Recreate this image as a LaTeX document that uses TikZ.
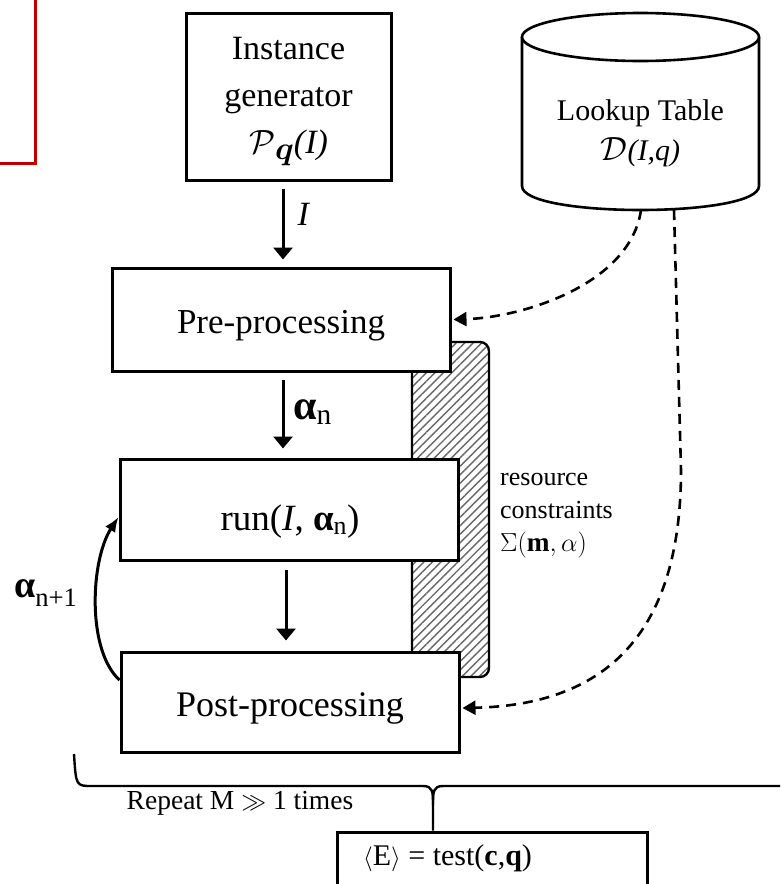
\documentclass[tikz,border=0pt]{standalone}
\usepackage{amsmath}
\usepackage{fontspec}
\setmainfont{Liberation Serif}
\usetikzlibrary{arrows.meta,patterns.meta}
\definecolor{frame}{RGB}{192,0,0}
\newcommand{\alf}{\textbf{α}}
\newcommand{\bigcal}[1]{\scalebox{1.35}{$\mathcal{#1}$}}
\begin{document}
\begin{tikzpicture}[x=1pt,y=-1pt,
  box/.style={draw,line width=3pt,fill=white,rectangle,inner sep=0pt},
  arr/.style={line width=3pt,-{Triangle[length=12pt,width=19pt]}},
  carr/.style={line width=3pt,-{Latex[length=15pt,width=12pt]}},
  darr/.style={line width=2.6pt,dash pattern=on 10pt off 7pt,-{Triangle[length=13pt,width=14pt]}},
  lbl/.style={inner sep=0pt}]
\useasboundingbox (0,0) rectangle (780,884);
\clip (0,0) rectangle (780,884);
% partial red frame
\draw[line width=3pt, draw=frame] (-20,-20) rectangle (35,163);
% hatched resource band
\draw[line width=2.4pt, pattern={Lines[angle=45,distance=6pt,line width=1.4pt]}, pattern color=black!60, rounded corners=9pt]
  (412,342) -| (489,677) -| (412,342) -- cycle;
% boxes
\node[box, minimum width=205pt, minimum height=167pt] (gen) at (288.5,96.5) {};
\node[lbl, align=center, font=\fontsize{34}{47}\selectfont] (genlbl) at (288.5,102)
  {Instance\\generator\\\bigcal{P}\raisebox{-6pt}{\scalebox{1.3}{$\boldsymbol{q}$}}\textit{(I)}};
\node[box, minimum width=338pt, minimum height=103pt] (pre) at (281,319.5) {};
\node[lbl, font=\fontsize{35}{40}\selectfont] (prelbl) at (281,326) {Pre-processing};
\node[box, minimum width=338pt, minimum height=101pt] (run) at (289,509.5) {};
\node[lbl, font=\fontsize{37}{40}\selectfont] (runlbl) at (290,522) {run(\textit{I}, \alf\textsubscript{n})};
\node[box, minimum width=338pt, minimum height=100pt] (post) at (290,702) {};
\node[lbl, font=\fontsize{36}{40}\selectfont] (postlbl) at (290,708) {Post-processing};
\node[box, minimum width=310pt, minimum height=90pt] (test) at (492,877) {};
\node[lbl, anchor=west, font=\fontsize{30}{34}\selectfont] (testlbl) at (363,858) {$\langle$E$\rangle$ = test(\textbf{c},\textbf{q})};
% lookup table cylinder
\fill[white] (522,37) rectangle (759,186);
\draw[line width=2.6pt, fill=white] (522,37) -- (522,186) .. controls (522,218) and (759,218) .. (759,186) -- (759,37);
\draw[line width=2.6pt, fill=white] (640.5,37) ellipse [x radius=118.5, y radius=24];
\node[lbl, align=center, font=\fontsize{30}{40}\selectfont] (db) at (640.5,133) {Lookup Table\\\bigcal{D}\textit{(I,q)}};
\coordinate (db1) at (641,210);
\coordinate (db2) at (674,210);
\coordinate (bend) at (681,470);
% solid arrows
\draw[arr] ([xshift=-5.5pt,yshift=-7pt]gen.south) -- ([xshift=2pt,yshift=7pt]pre.north);
\node[lbl, font=\fontsize{34}{40}\selectfont] (lI) at (304,214) {\textit{I}};
\draw[arr] ([xshift=2pt,yshift=-7pt]pre.south) -- ([xshift=-6pt,yshift=9pt]run.north);
\node[lbl, anchor=west, font=\fontsize{42}{44}\selectfont] (lan) at (293,412) {\alf\textsubscript{n}};
\draw[arr] ([xshift=-3pt,yshift=-8pt]run.south) -- ([xshift=-4pt,yshift=10pt]post.north);
\draw[carr] ([yshift=22pt]post.west) .. controls +(-33,-30) and +(-28,43) .. ([yshift=-7.5pt]run.west);
\node[lbl, anchor=west, font=\fontsize{38}{40}\selectfont] (lan1) at (14,593) {\alf\textsubscript{n+1}};
% dashed arrows
\draw[darr] (db1) .. controls +(-11,75) and +(68,-2) .. ([xshift=2pt]pre.east);
\draw[darr] (db2) -- (bend) .. controls (681,640) and (600,705) .. ([xshift=2pt,yshift=-6pt]post.east);
% resource label
\node[lbl, anchor=west, align=left, font=\fontsize{26}{33}\selectfont] (res) at (500,516)
  {resource\\constraints\\\scalebox{1.05}{$\Sigma(\mathbf{m},\alpha)$}};
% brace
\coordinate (bl) at (74,754);
\coordinate (bt) at (433,805);
\draw[line width=2.4pt] (bl) .. controls (76,786) and (76,786) .. (92,786) -- (423,786)
  .. controls (433,786) and (433,792) .. (bt) -- (bt |- test.north);
\draw[line width=2.4pt] (bt) .. controls (433,792) and (433,786) .. (443,786) -- (800,786);
\node[lbl, font=\fontsize{27.5}{30}\selectfont] (rep) at (240,803) {Repeat M $\gg$ 1 times};
\end{tikzpicture}
\end{document}
